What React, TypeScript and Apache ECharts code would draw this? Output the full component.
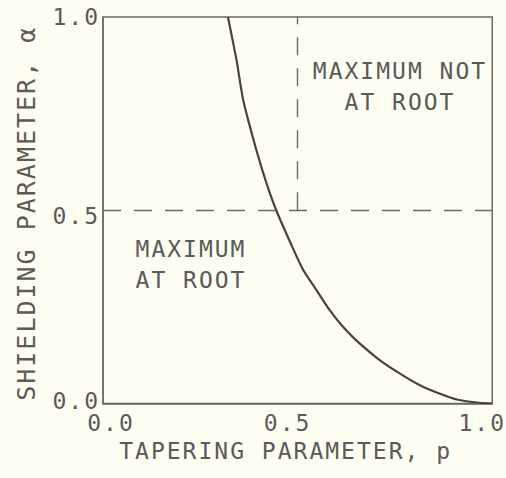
import React, { useEffect, useRef } from "react";
import * as echarts from "echarts";

// Curve separating the two regions
const TAPER_P = [0.321, 0.343, 0.36, 0.394, 0.42, 0.445, 0.486, 0.514, 0.548, 0.582, 0.616, 0.65, 0.71, 0.762, 0.813, 0.864, 0.915, 0.967, 1.0];
const SHIELD_ALPHA = [1.0, 0.889, 0.786, 0.656, 0.57, 0.5, 0.406, 0.346, 0.294, 0.242, 0.199, 0.164, 0.113, 0.078, 0.048, 0.026, 0.009, 0.002, 0.0];

const X_TICK_LABELS = ["0.0", "0.5", "1.0"];
const Y_TICK_LABELS = ["0.0", "0.5", "1.0"];
const BOUNDARY_ALPHA = 0.5;
const BOUNDARY_P = 0.5;

const X_TITLE = "TAPERING PARAMETER, p";
const Y_TITLE = "SHIELDING PARAMETER, α";
const REGION_UPPER = "MAXIMUM NOT\nAT ROOT";
const REGION_LOWER = "MAXIMUM\nAT ROOT";

const FONT = "'DejaVu Sans Mono', monospace";
const INK = "#5a5a5a";
const CURVE = "#4a4242";

export default function App() {
  const ref = useRef<HTMLDivElement>(null);
  useEffect(() => {
    if (!ref.current) return;
    const chart = echarts.init(ref.current, null, { renderer: "svg" });
    const data = TAPER_P.map((p, i) => [p, SHIELD_ALPHA[i]]);
    const tickText = { fontFamily: FONT, fontSize: 23, color: INK };
    chart.setOption({
      animation: false,
      backgroundColor: "#fdfdf1",
      grid: {
        left: 103,
        right: 13,
        top: 17,
        bottom: 74.5,
        show: true,
        borderColor: "#6a6a6a",
        borderWidth: 1.5,
        backgroundColor: "transparent",
      },
      xAxis: {
        type: "value",
        min: 0,
        max: 1,
        interval: 0.5,
        name: X_TITLE,
        nameLocation: "middle",
        nameGap: 36,
        nameTextStyle: { fontFamily: FONT, fontSize: 23, color: INK, padding: [0, 24, 0, 0] },
        axisLine: { show: true, lineStyle: { color: "#6a6a6a", width: 1.5 } },
        axisTick: { show: false },
        splitLine: { show: false },
        axisLabel: {
          margin: 8,
          formatter: (v: number) => {
            const i = Math.round(v / 0.5);
            return i === 0 ? `{r|${X_TICK_LABELS[i]}}` : `{l|${X_TICK_LABELS[i]}}`;
          },
          rich: {
            r: { ...tickText, padding: [0, 0, 0, 16] },
            l: { ...tickText, padding: [0, 20, 0, 0] },
          },
        },
      },
      yAxis: {
        type: "value",
        min: 0,
        max: 1,
        interval: 0.5,
        name: Y_TITLE,
        nameLocation: "middle",
        nameRotate: 90,
        nameGap: 64,
        nameTextStyle: { fontFamily: FONT, fontSize: 25, color: INK, padding: [0, 6, 0, 0] },
        axisLine: { show: true, lineStyle: { color: "#6a6a6a", width: 1.5 } },
        axisTick: { show: false },
        splitLine: { show: false },
        axisLabel: {
          margin: 3,
          formatter: (v: number) => {
            const i = Math.round(v / 0.5);
            return i === 0 ? `{u|${Y_TICK_LABELS[i]}}` : i === 1 ? `{d|${Y_TICK_LABELS[i]}}` : `{n|${Y_TICK_LABELS[i]}}`;
          },
          rich: {
            u: { ...tickText, padding: [0, 0, 6, 0] },
            d: { ...tickText, padding: [12, 0, 0, 0] },
            n: { ...tickText },
          },
        },
      },
      series: [
        {
          type: "line",
          data,
          smooth: 0.2,
          showSymbol: false,
          lineStyle: { color: CURVE, width: 2.2 },
          markLine: {
            silent: true,
            symbol: ["none", "none"],
            label: { show: false },
            lineStyle: { color: "#6a6a6a", width: 1.4, type: [18, 13] },
            data: [
              [{ coord: [0, BOUNDARY_ALPHA] }, { coord: [1, BOUNDARY_ALPHA] }],
              [{ coord: [BOUNDARY_P, BOUNDARY_ALPHA] }, { coord: [BOUNDARY_P, 1] }],
            ],
          },
        },
      ],
      graphic: [
        {
          type: "text",
          style: {
            text: REGION_UPPER,
            x: 400,
            y: 55,
            fontFamily: FONT,
            fontSize: 23,
            fill: INK,
            align: "center",
            lineHeight: 31,
          },
        },
        {
          type: "text",
          style: {
            text: REGION_LOWER,
            x: 191,
            y: 233,
            fontFamily: FONT,
            fontSize: 23,
            fill: INK,
            align: "center",
            lineHeight: 31,
          },
        },
      ],
    });
    return () => chart.dispose();
  }, []);
  return (
    <>
      <style>{`#chartbox text { letter-spacing: 2px; }`}</style>
      <div
        id="chartbox"
        ref={ref}
        style={{ position: "fixed", left: 0, top: 0, width: 506, height: 478 }}
      />
    </>
  );
}
